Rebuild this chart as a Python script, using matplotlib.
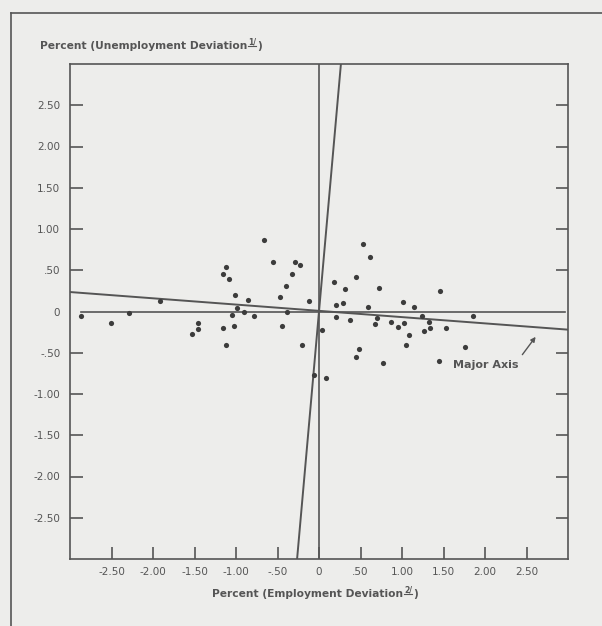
import matplotlib
matplotlib.use('Agg')
import matplotlib.pyplot as plt
from matplotlib.lines import Line2D

# deviations (percent)
emp_dev = [-2.87, -2.51, -2.29, -1.92, -1.53,
           -0.66, -1.12, -1.16, -1.09, -0.55, -0.29, -0.23, -0.33, -0.40, -0.47,
           -0.12, -1.01, -0.86, -0.99, -1.05, -0.90, -0.78, -0.39, -1.46, -1.46,
           -1.16, -1.02, -1.12, -0.45, -0.21, 0.04, -0.06,
           0.08, 0.53, 0.61, 0.18, 0.45, 0.31, 0.72, 0.21, 0.29, 0.59, 1.01,
           1.14, 1.46, 0.20, 0.37, 0.70, 0.67, 0.87, 0.95, 1.03, 1.24, 1.33,
           1.26, 1.34, 1.53, 1.08, 1.05, 0.48, 0.44, 0.77, 1.45,
           1.85, 1.76]
unemp_dev = [-0.05, -0.14, -0.02, 0.13, -0.27,
             0.87, 0.54, 0.45, 0.40, 0.60, 0.60, 0.56, 0.45, 0.31, 0.17,
             0.13, 0.20, 0.14, 0.04, -0.04, -0.01, -0.05, 0.00, -0.14, -0.21,
             -0.20, -0.18, -0.41, -0.17, -0.40, -0.23, -0.77,
             -0.80, 0.82, 0.66, 0.36, 0.42, 0.27, 0.29, 0.08, 0.10, 0.05, 0.11,
             0.05, 0.25, -0.07, -0.10, -0.08, -0.15, -0.13, -0.19, -0.14, -0.06, -0.13,
             -0.24, -0.20, -0.20, -0.28, -0.41, -0.45, -0.55, -0.63, -0.60,
             -0.06, -0.43]

tick_vals = [-2.5, -2.0, -1.5, -1.0, -0.5, 0, 0.5, 1.0, 1.5, 2.0, 2.5]
tick_text = ['-2.50', '-2.00', '-1.50', '-1.00', '-.50', '0', '.50', '1.00', '1.50', '2.00', '2.50']

# fitted lines through the origin
major_slope = -0.076
major_icept = 0.008
minor_dx_dy = 0.088

INK = '#555555'
PAPER = '#ededeb'
W, H = 602, 626

fig = plt.figure(figsize=(W / 100, H / 100), dpi=100, facecolor=PAPER)
ax = fig.add_axes([70 / W, 1 - 559 / H, 498 / W, (559 - 64) / H])
ax.set_facecolor(PAPER)
ax.set_xlim(-3, 3)
ax.set_ylim(-3, 3)

for s in ax.spines.values():
    s.set_color(INK)
    s.set_linewidth(1.2)

ax.axvline(0, color=INK, lw=1.2)
ax.plot([-2.87, 2.96], [0, 0], color=INK, lw=1.2)
ax.plot([-3, 3], [major_icept - 3 * major_slope, major_icept + 3 * major_slope], color=INK, lw=1.4)
ax.plot([-3 * minor_dx_dy, 3 * minor_dx_dy], [-3, 3], color=INK, lw=1.4)

ax.scatter(emp_dev, unemp_dev, s=14, color='#3c3c3c', linewidths=0, zorder=3)

ax.set_xticks(tick_vals)
ax.set_xticklabels(tick_text)
ax.set_yticks(tick_vals)
ax.set_yticklabels(tick_text)
ax.tick_params(direction='in', length=9, width=1.2, color=INK, labelcolor=INK, labelsize=7.5)
ax.tick_params(axis='y', right=True, pad=7)
ax.tick_params(axis='x', pad=6)
for t in ax.yaxis.get_major_ticks():
    if t.get_loc() == 0:
        t.tick1line.set_visible(False)
        t.tick2line.set_visible(False)

ax.text(1.61, -0.645, 'Major Axis', ha='left', va='center', fontsize=8, fontweight='bold', color=INK)
ax.annotate('', xy=(2.63, -0.28), xytext=(2.43, -0.55),
            arrowprops=dict(arrowstyle='-|>', color=INK, lw=1, mutation_scale=7))

# outer frame of the page
fig.add_artist(Line2D([11 / W, 11 / W], [0, 1 - 13 / H], color=INK, lw=1.2))
fig.add_artist(Line2D([11 / W, 1], [1 - 13 / H, 1 - 13 / H], color=INK, lw=1.2))


def footnoted(x_px, y_px, main, mark):
    t = fig.text(x_px / W, 1 - y_px / H, main, ha='left', va='center',
                 fontsize=7.7, fontweight='bold', color=INK)
    fig.canvas.draw()
    bb = t.get_window_extent()
    m = fig.text((bb.x1 + 1) / W, (bb.y0 + bb.height * 0.45) / H, mark, ha='left', va='bottom',
                 fontsize=5.5, fontweight='bold', color=INK)
    fig.canvas.draw()
    mb = m.get_window_extent()
    fig.add_artist(Line2D([mb.x0 / W, mb.x1 / W], [(mb.y0 + 1) / H, (mb.y0 + 1) / H], color=INK, lw=0.8))
    fig.text((mb.x1 + 1) / W, 1 - y_px / H, ')', ha='left', va='center',
             fontsize=7.7, fontweight='bold', color=INK)


footnoted(40, 46, 'Percent (Unemployment Deviation', '1/')
footnoted(212, 594, 'Percent (Employment Deviation', '2/')

fig.savefig('out.png', dpi=100, facecolor=PAPER)
